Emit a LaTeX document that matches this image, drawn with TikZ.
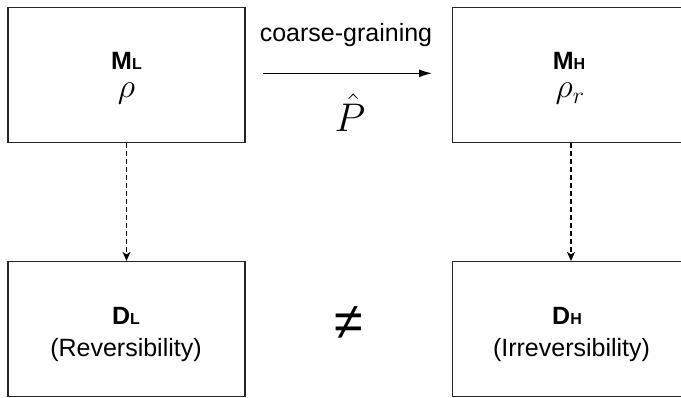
\documentclass[tikz,border=0pt]{standalone}
\usepackage{fix-cm}
\usepackage{fontspec}
\setmainfont{Liberation Sans}
\usetikzlibrary{arrows.meta}
\tikzset{
  blockbox/.style={draw=black!85, line width=1.2pt, minimum width=237pt, minimum height=135pt, inner sep=0pt},
  boldlab/.style={font=\fontsize{25}{30}\selectfont\bfseries, anchor=base, inner sep=0pt},
  plainlab/.style={font=\fontsize{25}{30}\selectfont, anchor=base, inner sep=0pt},
  mathlab/.style={font=\fontsize{34}{40}\selectfont, anchor=base, inner sep=0pt},
  dasharrow/.style={line width=1.1pt, dash pattern=on 5pt off 3pt, -{Stealth[length=9pt,width=8pt,inset=2.5pt]}}
}
\newcommand{\smallsub}[1]{{\fontsize{16}{18}\selectfont #1}}
\begin{document}
\begin{tikzpicture}[x=1pt,y=1pt]
\useasboundingbox (0,0) rectangle (681,397);
% the four boxes
\node[blockbox] (ML) at (126.5,322) {};
\node[blockbox] (MH) at (571,322) {};
\node[blockbox] (DL) at (126.5,68) {};
\node[blockbox] (DH) at (571,68) {};
% box texts
\node[boldlab] (MLname) at (126.5,327.7) {M\smallsub{L}};
\node[mathlab] (MLrho) at (126.5,299) {$\rho$};
\node[boldlab] (MHname) at (569,327.7) {M\smallsub{H}};
\node[mathlab] (MHrho) at (570,299) {$\rho_r$};
\node[boldlab] (DLname) at (126,73) {D\smallsub{L}};
\node[plainlab] (DLtext) at (126,41) {(Reversibility)};
\node[boldlab] (DHname) at (567,73) {D\smallsub{H}};
\node[plainlab] (DHtext) at (571.5,41) {(Irreversibility)};
% coarse-graining map
\coordinate (cgstart) at (263,323.7);
\coordinate (cgend) at (432,323.7);
\draw[line width=1.3pt,-{Latex[length=13pt,width=8pt]}] (cgstart) -- (cgend);
\node[plainlab] (cglab) at (346,355) {coarse-graining};
\node[mathlab, font=\fontsize{40}{48}\selectfont] (Phat) at (350,265) {$\hat{P}$};
\node[font=\fontsize{52}{60}\selectfont, inner sep=0pt] (neq) at (349,74) {≠};
% dynamics
\foreach \s/\t in {ML/DL,MH/DH}
  \draw[dasharrow] (\s.south) -- (\t.north);
\end{tikzpicture}
\end{document}
